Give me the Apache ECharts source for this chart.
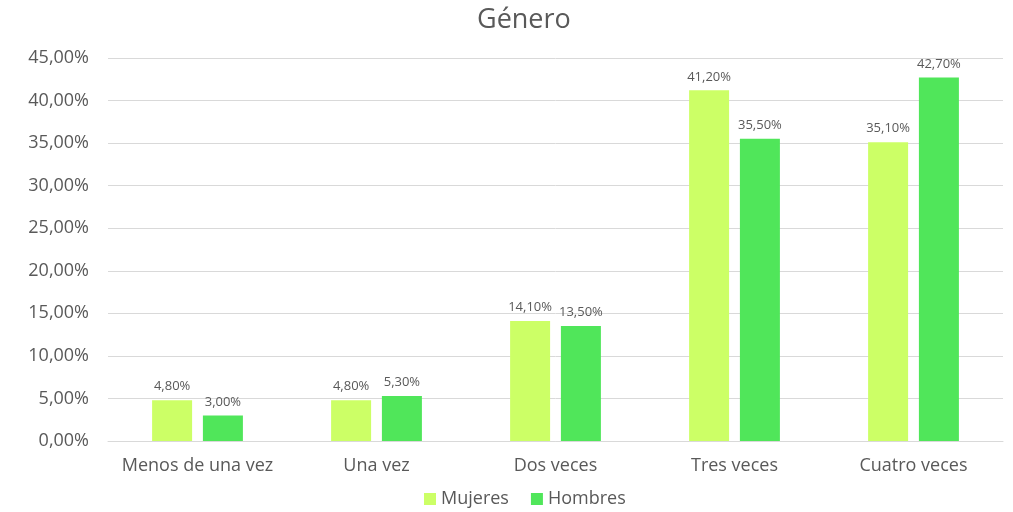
<!DOCTYPE html>
<html>
<head>
<meta charset="utf-8">
<script src="https://cdn.jsdelivr.net/npm/echarts@6/dist/echarts.min.js"></script>
<style>
    html, body { margin: 0; padding: 0; background: #fff; }
    #myChart { width: 1013px; height: 512px; }
</style>
</head>
<body>
<div id="myChart"></div>
<script>
    // datos del gráfico
    const categories = ['Menos de una vez', 'Una vez', 'Dos veces', 'Tres veces', 'Cuatro veces'];
    const mujeres = [4.8, 4.8, 14.1, 41.2, 35.1];
    const hombres = [3.0, 5.3, 13.5, 35.5, 42.7];
    const seriesNames = ['Mujeres', 'Hombres'];

    const pct = v => v.toFixed(2).replace('.', ',') + '%';
    const font = '"Open Sans", "Noto Sans", sans-serif';
    const txt = '#595959';

    const myChart = echarts.init(document.getElementById('myChart'));
    const option = {
        animation: false,
        textStyle: { fontFamily: font },
        title: {
            text: 'Género',
            left: 472,
            top: 2,
            textStyle: { fontFamily: font, fontSize: 27, fontWeight: 'normal', color: txt }
        },
        legend: {
            data: seriesNames,
            bottom: -1,
            left: 419,
            itemWidth: 12,
            itemHeight: 12,
            itemGap: 22,
            icon: 'rect',
            textStyle: { fontFamily: font, fontSize: 18, color: txt }
        },
        grid: { left: 108, right: 10, top: 58, bottom: 71 },
        xAxis: {
            type: 'category',
            data: categories,
            axisLine: { lineStyle: { color: '#d9d9d9' } },
            axisTick: { show: false },
            axisLabel: { fontFamily: font, fontSize: 18, color: txt, margin: 16, interval: 0 }
        },
        yAxis: {
            type: 'value',
            min: 0,
            max: 45,
            interval: 5,
            axisLine: { show: false },
            axisTick: { show: false },
            splitLine: { lineStyle: { color: '#d9d9d9' } },
            axisLabel: { fontFamily: font, fontSize: 18, color: txt, margin: 19, formatter: pct }
        },
        series: [
            {
                name: seriesNames[0],
                type: 'bar',
                data: mujeres,
                barWidth: 40,
                barGap: '27%',
                itemStyle: { color: '#ccff66' },
                label: { show: true, position: 'top', distance: 7, fontFamily: font, fontSize: 13, color: txt, formatter: p => pct(p.value) }
            },
            {
                name: seriesNames[1],
                type: 'bar',
                data: hombres,
                barWidth: 40,
                itemStyle: { color: '#50e65a' },
                label: { show: true, position: 'top', distance: 7, fontFamily: font, fontSize: 13, color: txt, formatter: p => pct(p.value) }
            }
        ]
    };
    myChart.setOption(option);
</script>
</body>
</html>
